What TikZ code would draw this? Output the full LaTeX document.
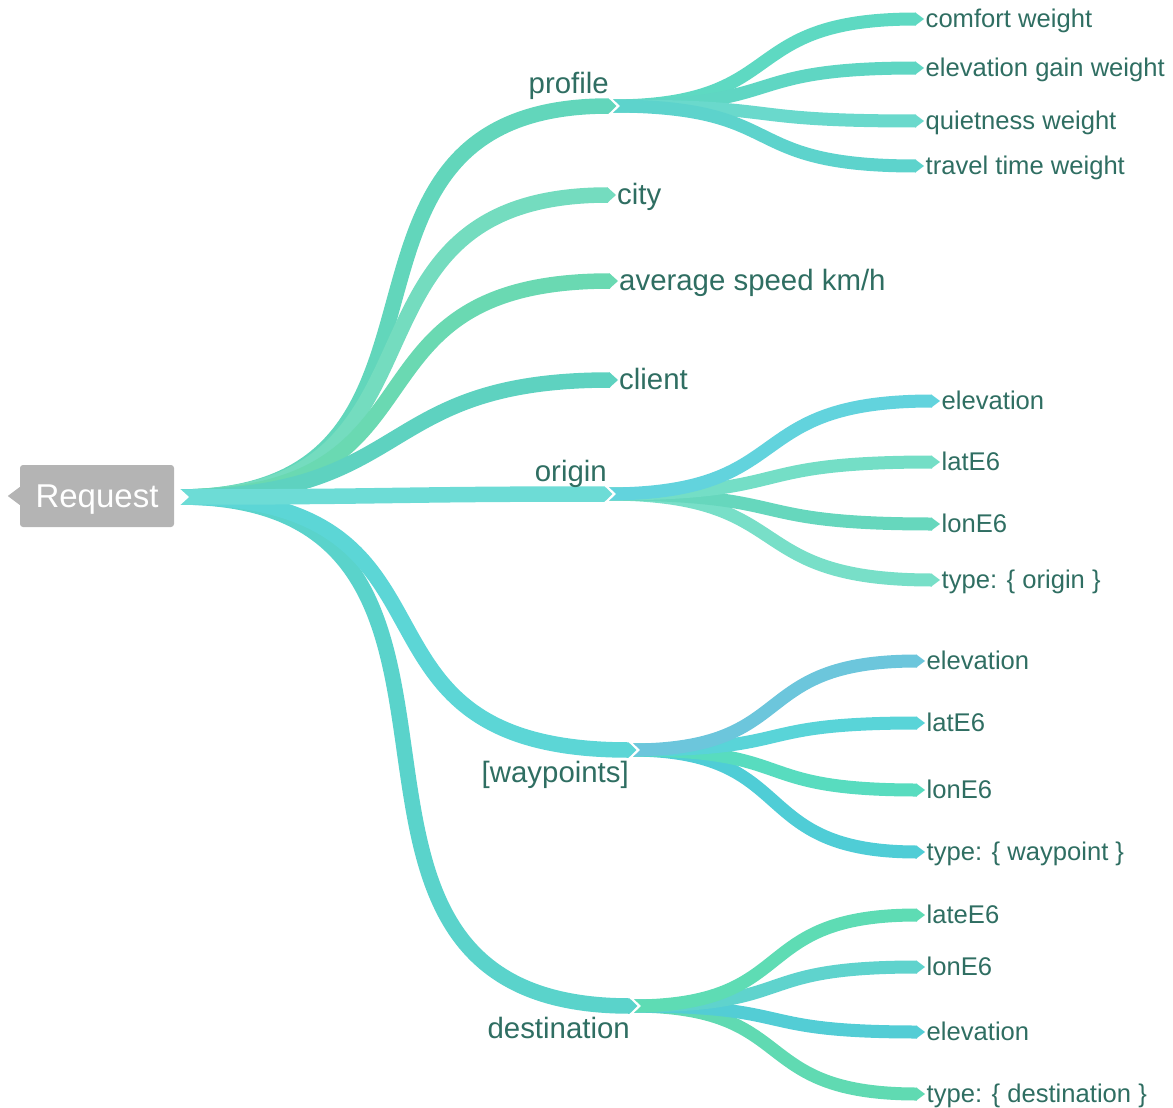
\documentclass[tikz,border=0pt]{standalone}
\usepackage{fontspec}
\setmainfont{Liberation Sans}
\usetikzlibrary{calc}

% palette
\definecolor{txt}{HTML}{2F6E62}
\definecolor{rootgray}{HTML}{B4B4B4}
\definecolor{cProfile}{HTML}{62D6BB}
\definecolor{cCity}{HTML}{74DCBF}
\definecolor{cAvg}{HTML}{6AD9B2}
\definecolor{cClient}{HTML}{5ED2C0}
\definecolor{cOrigin}{HTML}{6DDCD6}
\definecolor{cWay}{HTML}{5CD6D6}
\definecolor{cDest}{HTML}{5AD3CB}
\definecolor{cPc}{HTML}{5ED9C2}
\definecolor{cPe}{HTML}{5FD6C3}
\definecolor{cPq}{HTML}{6AD9CC}
\definecolor{cPt}{HTML}{5DD3CC}
\definecolor{cOe}{HTML}{62D3DD}
\definecolor{cOla}{HTML}{74DEC6}
\definecolor{cOlo}{HTML}{66D7BD}
\definecolor{cOty}{HTML}{78DFC8}
\definecolor{cWe}{HTML}{6CC6DC}
\definecolor{cWla}{HTML}{59D4D8}
\definecolor{cWlo}{HTML}{58DCBF}
\definecolor{cWty}{HTML}{4FCDD6}
\definecolor{cDla}{HTML}{5EDCB4}
\definecolor{cDlo}{HTML}{5FD3CD}
\definecolor{cDel}{HTML}{53CDD5}
\definecolor{cDty}{HTML}{60DAB2}

\tikzset{
  lvlone/.style={font=\fontsize{29.4}{32}\selectfont, text=txt, inner sep=0pt},
  lvltwo/.style={font=\fontsize{25.6}{28}\selectfont, text=txt, inner sep=0pt},
  rootbox/.style={fill=rootgray, rounded corners=3pt, minimum width=154pt,
    minimum height=62pt, text=white, font=\fontsize{33}{36}\selectfont, inner sep=0pt,
    text height=24pt, text depth=2pt},
  junction/.style={draw=white, line width=2.2pt, miter limit=10}
}

% ribbon: [stiffness], colour, width, start coordinate, tip coordinate
\newcommand\ribbon[5][0.6]{%
  \draw[draw=#2, line width=#3] let \p1=(#4), \p2=([xshift=-8pt]#5) in
    (\p1) .. controls ({\x1+#1*(\x2-\x1)},\y1) and ({\x2-#1*(\x2-\x1)},\y2) .. (\p2);
  \fill[#2] ([xshift=-8.6pt,yshift=#3/2]#5) -- (#5) -- ([xshift=-8.6pt,yshift=-#3/2]#5) -- cycle;
}
% white chevron separating a parent tip from its children
\newcommand\splitmark[1]{%
  \draw[junction] ([xshift=-8pt,yshift=9pt]#1) -- ([xshift=1.3pt]#1) -- ([xshift=-8pt,yshift=-9pt]#1);
}

\begin{document}
\begin{tikzpicture}[x=1pt,y=-1pt]
\useasboundingbox (0,0) rectangle (1173,1108);

% root and its outlet
\node[rootbox] (req) at (97,496) {Request};
\fill[rootgray] ([yshift=9pt]req.west) -- ([xshift=-12pt]req.west) -- ([yshift=-9pt]req.west) -- cycle;
\coordinate (ro) at (179,497);

% first level tips
\coordinate (profile) at (617,106);
\coordinate (city) at (616,195);
\coordinate (avg) at (618,281);
\coordinate (client) at (618,380);
\coordinate (origin) at (613,494);
\coordinate (wayp) at (637,750);
\coordinate (dest) at (638,1006);

% second level tips
\coordinate (pc) at (924,19);
\coordinate (pe) at (924,68);
\coordinate (pq) at (924,121);
\coordinate (pt) at (924,166);
\coordinate (oe) at (940,401);
\coordinate (ola) at (940,462);
\coordinate (olo) at (940,524);
\coordinate (oty) at (940,580);
\coordinate (we) at (925,661);
\coordinate (wla) at (925,723);
\coordinate (wlo) at (925,790);
\coordinate (wty) at (925,852);
\coordinate (dla) at (925,915);
\coordinate (dlo) at (925,967);
\coordinate (del) at (925,1032);
\coordinate (dty) at (925,1094);

% second level ribbons
\ribbon{cPc}{13pt}{[xshift=-7pt]profile}{pc}
\ribbon{cPe}{13pt}{[xshift=-7pt]profile}{pe}
\ribbon{cPq}{13pt}{[xshift=-7pt]profile}{pq}
\ribbon{cPt}{13pt}{[xshift=-7pt]profile}{pt}
\ribbon{cOty}{13pt}{[xshift=-7pt]origin}{oty}
\ribbon{cOlo}{13pt}{[xshift=-7pt]origin}{olo}
\ribbon{cOla}{13pt}{[xshift=-7pt]origin}{ola}
\ribbon{cOe}{13pt}{[xshift=-7pt]origin}{oe}
\ribbon{cWty}{13pt}{[xshift=-7pt]wayp}{wty}
\ribbon{cWlo}{13pt}{[xshift=-7pt]wayp}{wlo}
\ribbon{cWla}{13pt}{[xshift=-7pt]wayp}{wla}
\ribbon{cWe}{13pt}{[xshift=-7pt]wayp}{we}
\ribbon{cDty}{13pt}{[xshift=-7pt]dest}{dty}
\ribbon{cDel}{13pt}{[xshift=-7pt]dest}{del}
\ribbon{cDlo}{13pt}{[xshift=-7pt]dest}{dlo}
\ribbon{cDla}{13pt}{[xshift=-7pt]dest}{dla}

% first level ribbons
\ribbon[0.75]{cProfile}{15.5pt}{ro}{profile}
\ribbon[0.68]{cCity}{15.5pt}{ro}{city}
\ribbon[0.65]{cAvg}{15.5pt}{ro}{avg}
\ribbon[0.55]{cClient}{15.5pt}{ro}{client}
\ribbon[0.84]{cDest}{15.5pt}{ro}{dest}
\ribbon[0.69]{cWay}{15.5pt}{ro}{wayp}
\ribbon[0.5]{cOrigin}{15.5pt}{ro}{origin}

% notches
\fill[white] ([xshift=-1pt,yshift=10pt]ro) -- ([xshift=10pt]ro) -- ([xshift=-1pt,yshift=-10pt]ro) -- cycle;
\splitmark{profile}
\splitmark{origin}
\splitmark{wayp}
\splitmark{dest}

% first level labels
\node[lvlone, anchor=base east] (lprofile) at ([xshift=-8pt,yshift=12pt]profile) {profile};
\node[lvlone, anchor=base west] (lcity) at ([xshift=1pt,yshift=-9pt]city) {city};
\node[lvlone, anchor=base west] (lavg) at ([xshift=1pt,yshift=-9pt]avg) {average speed km/h};
\node[lvlone, anchor=base west] (lclient) at ([xshift=1pt,yshift=-9pt]client) {client};
\node[lvlone, anchor=base east] (lorigin) at ([xshift=-6pt,yshift=13pt]origin) {origin};
\node[lvlone, anchor=base east] (lwayp) at ([xshift=-8pt,yshift=-32pt]wayp) {[waypoints]};
\node[lvlone, anchor=base east] (ldest) at ([xshift=-8pt,yshift=-32pt]dest) {destination};

% second level labels
\foreach \c/\t in {pc/comfort weight, pe/elevation gain weight, pq/quietness weight,
  pt/travel time weight, oe/elevation, ola/latE6, olo/lonE6, oty/{type: \{ origin \}},
  we/elevation, wla/latE6, wlo/lonE6, wty/{type: \{ waypoint \}},
  dla/lateE6, dlo/lonE6, del/elevation, dty/{type: \{ destination \}}}
  \node[lvltwo, anchor=base west] (l\c) at ([xshift=1.5pt,yshift=-8.5pt]\c) {\t};
\end{tikzpicture}
\end{document}
